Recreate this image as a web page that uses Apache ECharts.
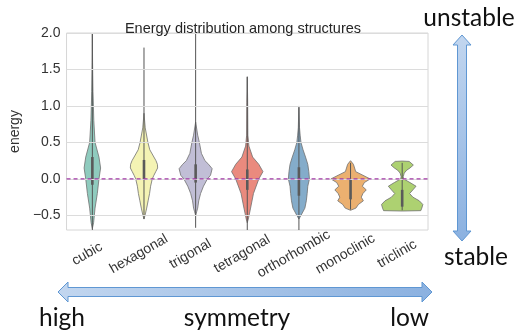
<!DOCTYPE html>
<html>
<head>
<meta charset="utf-8">
<script src="https://cdn.jsdelivr.net/npm/echarts@6/dist/echarts.min.js"></script>
<style>
  html, body { margin: 0; padding: 0; background: #fff; }
  #chart { width: 518px; height: 331px; }
</style>
</head>
<body>
<div id="chart"></div>
<script>
// Crystal systems, high to low symmetry
const categories = ['cubic', 'hexagonal', 'trigonal', 'tetragonal', 'orthorhombic', 'monoclinic', 'triclinic'];
const colors = ['#8fcbbe', '#f4f3b4', '#c1bed6', '#ea8a7e', '#84acca', '#ebb070', '#add171'];

// Violin outlines: [energy, relative density]
const cubicViolin = [[2.0, 0], [1.6, 0.01], [1.2, 0.03], [0.8, 0.07], [0.5, 0.13], [0.3, 0.32], [0.15, 0.4], [0.0, 0.32], [-0.2, 0.24], [-0.4, 0.13], [-0.6, 0.06], [-0.68, 0]];
const hexagonalViolin = [[0.9, 0], [0.7, 0.06], [0.5, 0.19], [0.4, 0.28], [0.3, 0.48], [0.25, 0.58], [0.2, 0.65], [0.15, 0.66], [0.1, 0.57], [0.05, 0.48], [0.0, 0.4], [-0.1, 0.32], [-0.2, 0.27], [-0.3, 0.2], [-0.4, 0.13], [-0.5, 0.05], [-0.55, 0]];
const trigonalViolin = [[0.78, 0], [0.6, 0.1], [0.5, 0.18], [0.35, 0.28], [0.25, 0.45], [0.2, 0.63], [0.14, 0.8], [0.05, 0.72], [0.0, 0.57], [-0.1, 0.38], [-0.2, 0.24], [-0.3, 0.15], [-0.4, 0.1], [-0.45, 0.05], [-0.5, 0]];
const tetragonalViolin = [[1.4, 0], [1.05, 0.02], [0.6, 0.03], [0.45, 0.08], [0.3, 0.26], [0.2, 0.56], [0.1, 0.76], [0.0, 0.56], [-0.2, 0.3], [-0.4, 0.16], [-0.55, 0.05], [-0.6, 0]];
const orthorhombicViolin = [[1.0, 0], [0.7, 0.03], [0.6, 0.06], [0.5, 0.1], [0.4, 0.2], [0.3, 0.32], [0.2, 0.43], [0.1, 0.48], [0.0, 0.51], [-0.1, 0.43], [-0.2, 0.4], [-0.3, 0.36], [-0.4, 0.29], [-0.5, 0.1], [-0.55, 0]];
const monoclinicViolin = [[0.25, 0], [0.2, 0.14], [0.1, 0.25], [0.05, 0.6], [0.0, 0.95], [-0.05, 0.67], [-0.1, 0.57], [-0.15, 0.76], [-0.2, 0.6], [-0.25, 0.52], [-0.3, 0.62], [-0.35, 0.38], [-0.4, 0.26], [-0.43, 0]];
const triclinicViolin = [[0.245, 0], [0.24, 0.34], [0.19, 0.54], [0.15, 0.38], [0.12, 0.22], [0.08, 0.1], [0.03, 0.05], [0.0, 0.07], [-0.05, 0.38], [-0.1, 0.67], [-0.15, 0.52], [-0.2, 0.36], [-0.25, 0.52], [-0.3, 0.83], [-0.35, 1.0], [-0.4, 0.95], [-0.435, 0.9], [-0.44, 0]];
const violins = [cubicViolin, hexagonalViolin, trigonalViolin, tetragonalViolin, orthorhombicViolin, monoclinicViolin, triclinicViolin];

// Inner box stats
const whiskerLow = [-0.7, -0.55, -0.67, -0.7, -0.7, -0.42, -0.43];
const whiskerHigh = [2.0, 1.8, 2.0, 1.4, 0.98, 0.22, 0.22];
const q1 = [-0.08, -0.01, -0.05, -0.15, -0.23, -0.28, -0.38];
const q3 = [0.3, 0.26, 0.2, 0.13, 0.16, 0.0, -0.15];

const yTicks = [-0.5, 0.0, 0.5, 1.0, 1.5, 2.0];
// zero reference line, spanning the full category range
const zeroLine = [[-0.5, 0], [6.5, 0]];

const chart = echarts.init(document.getElementById('chart'));

function renderViolin(params, api) {
  const i = api.value(0);
  const band = api.size([1, 0])[0];
  const half = band * 0.4;
  const right = [], left = [];
  violins[i].forEach(([e, w]) => {
    const p = api.coord([i, e]);
    right.push([p[0] + w * half, p[1]]);
    left.push([p[0] - w * half, p[1]]);
  });
  const pts = right.concat(left.reverse());
  const top = api.coord([i, whiskerHigh[i]]);
  const bot = api.coord([i, whiskerLow[i]]);
  const b1 = api.coord([i, q1[i]]);
  const b3 = api.coord([i, q3[i]]);
  return {
    type: 'group',
    children: [
      { type: 'polygon', shape: { points: pts }, style: { fill: colors[i], stroke: '#707070', lineWidth: 0.8 } },
      { type: 'line', shape: { x1: top[0], y1: top[1], x2: bot[0], y2: bot[1] }, style: { stroke: '#555', lineWidth: 1 } },
      { type: 'line', shape: { x1: b3[0], y1: b3[1], x2: b1[0], y2: b1[1] }, style: { stroke: '#5a5a5a', lineWidth: 2.6 } }
    ]
  };
}

const font = 'Liberation Sans, Arial, sans-serif';
const noteFont = 'Lato, sans-serif';

function arrowGrad(x2, y2) {
  return {
    type: 'linear', x: 0, y: 0, x2: x2, y2: y2,
    colorStops: [{ offset: 0, color: '#c2d6ef' }, { offset: 1, color: '#8bb1e0' }]
  };
}

chart.setOption({
  backgroundColor: '#fff',
  animation: false,
  title: {
    text: 'Energy distribution among structures',
    left: 238, top: 16, textAlign: 'center',
    textStyle: { fontFamily: font, fontSize: 14.5, fontWeight: 'normal', color: '#262626' }
  },
  grid: { left: 58, right: 90, top: 33, bottom: 101, show: true, borderColor: '#d6d6d6', borderWidth: 1, backgroundColor: 'transparent' },
  xAxis: [
    {
      type: 'category',
      data: categories,
      axisLine: { show: false },
      axisTick: { show: false },
      splitLine: { show: false },
      axisLabel: {
        interval: 0, rotate: 30, align: 'center', verticalAlign: 'middle', margin: 21,
        padding: [0, 12, 0, 0],
        fontFamily: font, fontSize: 14, color: '#333'
      }
    },
    { type: 'value', min: -0.5, max: 6.5, show: false }
  ],
  yAxis: {
    type: 'value',
    min: -0.7, max: 2.0,
    name: 'energy', nameLocation: 'middle', nameGap: 35, nameRotate: 90,
    nameTextStyle: { fontFamily: font, fontSize: 14, color: '#333' },
    axisLine: { show: false },
    axisTick: { show: false },
    splitLine: { show: false },
    axisLabel: {
      customValues: yTicks, margin: 6,
      fontFamily: font, fontSize: 14, color: '#333',
      formatter: v => v.toFixed(1).replace('-', '\u2212')
    }
  },
  series: [
    {
      type: 'line', data: [], z: 1, silent: true,
      markLine: {
        silent: true, symbol: 'none', label: { show: false },
        lineStyle: { color: '#dcdcdc', type: 'solid', width: 1 },
        data: yTicks.map(v => ({ yAxis: v }))
      }
    },
    {
      type: 'custom', z: 2,
      renderItem: renderViolin,
      data: categories.map((c, i) => [i])
    },
    {
      type: 'line', xAxisIndex: 1, z: 5, silent: true,
      data: zeroLine, showSymbol: false, symbol: 'none',
      lineStyle: { color: '#a23aa6', type: [4, 3], width: 1.2 }
    }
  ],
  graphic: [
    // vertical stability arrow
    {
      type: 'polygon', z: 10,
      shape: { points: [[462, 35], [471, 45], [466.5, 45], [466.5, 231], [471, 231], [462, 241], [453, 231], [457.5, 231], [457.5, 45], [453, 45]] },
      style: { fill: arrowGrad(0, 1), stroke: '#5f97d3', lineWidth: 1 }
    },
    // horizontal symmetry arrow
    {
      type: 'polygon', z: 10,
      shape: { points: [[58, 292], [68, 282], [68, 287.5], [422, 287.5], [422, 282], [432, 292], [422, 302], [422, 296.5], [68, 296.5], [68, 302]] },
      style: { fill: arrowGrad(1, 0), stroke: '#5f97d3', lineWidth: 1 }
    },
    { type: 'text', z: 10, x: 469, y: 18, style: { text: 'unstable', font: '24.5px ' + noteFont, fill: '#111', align: 'center', verticalAlign: 'middle' } },
    { type: 'text', z: 10, x: 476, y: 257, style: { text: 'stable', font: '24.5px ' + noteFont, fill: '#111', align: 'center', verticalAlign: 'middle' } },
    { type: 'text', z: 10, x: 39, y: 318, style: { text: 'high', font: '24.5px ' + noteFont, fill: '#111', align: 'left', verticalAlign: 'middle' } },
    { type: 'text', z: 10, x: 237, y: 318, style: { text: 'symmetry', font: '24.5px ' + noteFont, fill: '#111', align: 'center', verticalAlign: 'middle' } },
    { type: 'text', z: 10, x: 429, y: 318, style: { text: 'low', font: '24.5px ' + noteFont, fill: '#111', align: 'right', verticalAlign: 'middle' } }
  ]
});
</script>
</body>
</html>
